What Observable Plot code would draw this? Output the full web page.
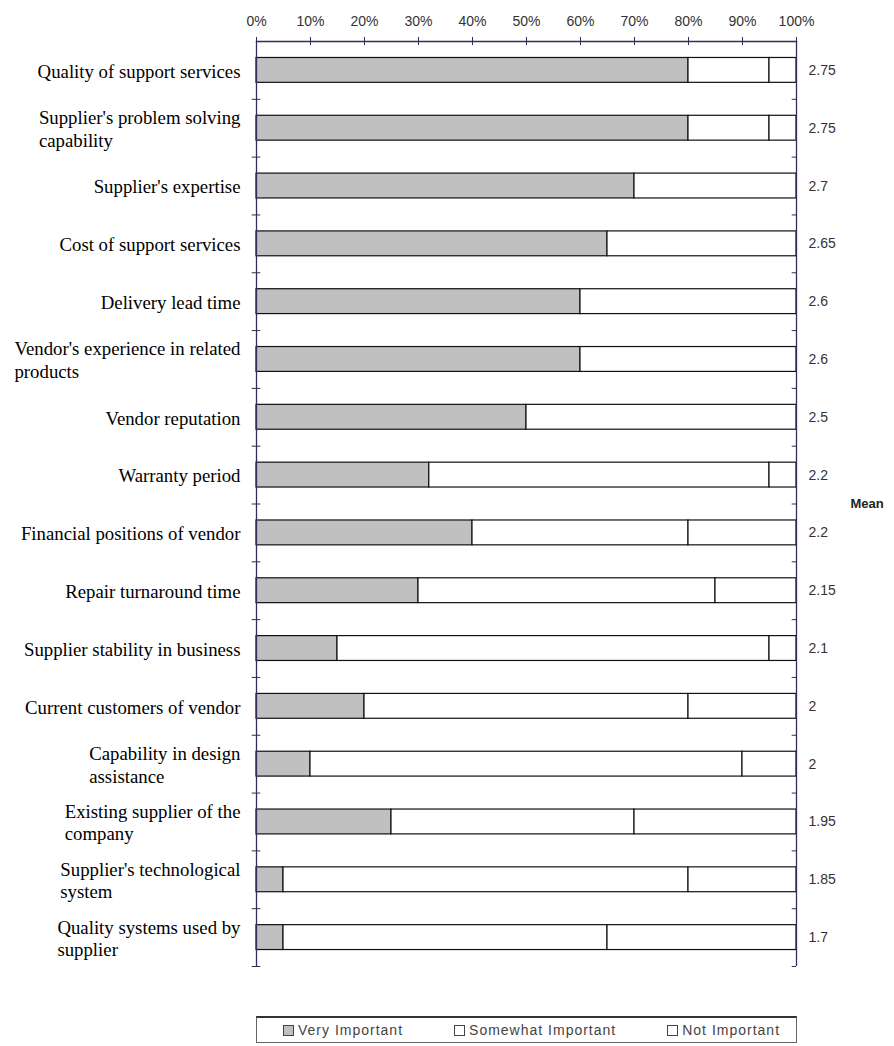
<!DOCTYPE html>
<html>
<head>
<meta charset="utf-8">
<script src="https://cdn.jsdelivr.net/npm/d3@7"></script>
<script src="https://cdn.jsdelivr.net/npm/@observablehq/plot@0.6"></script>
<style>
  body { margin: 0; background: #fff; }
  #chart { position: relative; width: 894px; height: 1046px; }
  #chart svg { display: block; }
  .legend {
    position: absolute; left: 256px; top: 1016px; width: 541px; height: 27px;
    border: 1px solid #666; border-top: 2px solid #333; box-sizing: border-box;
    display: flex; align-items: center; gap: 51px; padding-left: 26px;
    font-family: "Liberation Sans", Arial, sans-serif; font-size: 14px; letter-spacing: 1px; color: #444;
  }
  .legend .item { display: flex; align-items: center; white-space: nowrap; }
  .legend .swatch { width: 9px; height: 9px; border: 1px solid #444; margin-right: 4px; }
</style>
</head>
<body>
<div id="chart"></div>
<script>
// Survey: importance of supplier-selection criteria (% of respondents)
const categories = [
  "Quality of support services",
  "Supplier's problem solving capability",
  "Supplier's expertise",
  "Cost of support services",
  "Delivery lead time",
  "Vendor's experience in related products",
  "Vendor reputation",
  "Warranty period",
  "Financial positions of vendor",
  "Repair turnaround time",
  "Supplier stability in business",
  "Current customers of vendor",
  "Capability in design assistance",
  "Existing supplier of the company",
  "Supplier's technological system",
  "Quality systems used by supplier"
];
const categoryLabels = [
  "Quality of support services",
  "Supplier's problem solving\ncapability",
  "Supplier's expertise",
  "Cost of support services",
  "Delivery lead time",
  "Vendor's experience in related\nproducts",
  "Vendor reputation",
  "Warranty period",
  "Financial positions of vendor",
  "Repair turnaround time",
  "Supplier stability in business",
  "Current customers of vendor",
  "Capability in design\nassistance",
  "Existing supplier of the\ncompany",
  "Supplier's technological\nsystem",
  "Quality systems used by\nsupplier"
];
const veryImportant     = [80, 80, 70, 65, 60, 60, 50, 32, 40, 30, 15, 20, 10, 25,  5,  5];
const somewhatImportant = [15, 15, 30, 35, 40, 40, 50, 63, 40, 55, 80, 60, 80, 45, 75, 60];
const notImportant      = [ 5,  5,  0,  0,  0,  0,  0,  5, 20, 15,  5, 20, 10, 30, 20, 35];
const meanScores = ["2.75", "2.75", "2.7", "2.65", "2.6", "2.6", "2.5", "2.2", "2.2", "2.15", "2.1", "2", "2", "1.95", "1.85", "1.7"];
const seriesNames = ["Very Important", "Somewhat Important", "Not Important"];
const seriesFill = ["#c0c0c0", "#ffffff", "#ffffff"];
const xTicks = [0, 10, 20, 30, 40, 50, 60, 70, 80, 90, 100];
const meanTitle = "Mean";

const seriesValues = [veryImportant, somewhatImportant, notImportant];
const rows = categories.flatMap((category, i) =>
  seriesNames.map((series, s) => ({category, series, value: seriesValues[s][i]}))
);

const WIDTH = 894, HEIGHT = 1000, MARGIN_TOP = 41, MARGIN_BOTTOM = 34;
const plotHeight = HEIGHT - MARGIN_TOP - MARGIN_BOTTOM;
const rowStep = plotHeight / categories.length;
const tickLength = 4;
const axisColor = "#2e2e58";
const sans = "'Liberation Sans', Arial, sans-serif";
const serif = "'Liberation Serif', 'Times New Roman', serif";

const chart = Plot.plot({
  width: WIDTH,
  height: HEIGHT,
  marginTop: MARGIN_TOP,
  marginBottom: MARGIN_BOTTOM,
  marginLeft: 256,
  marginRight: 98,
  style: {background: "#fff", overflow: "visible"},
  x: {domain: [0, 100], axis: null},
  // rows fill the frame evenly: half the inner gap above the first and below the last bar
  y: {domain: categories, paddingInner: 0.57, paddingOuter: 0.285, round: false, axis: null},
  color: {domain: seriesNames, range: seriesFill},
  marks: [
    // stacked percentage bars
    Plot.barX(rows, Plot.stackX({
      x: "value", y: "category", fill: "series", order: seriesNames,
      stroke: "#111", strokeWidth: 1.2
    })),
    // left and right axis lines, top axis line
    Plot.ruleX([0, 100], {stroke: axisColor, strokeWidth: 1.3}),
    Plot.frame({anchor: "top", stroke: axisColor, strokeWidth: 1.3}),
    // top percentage axis: short ticks crossing the line, labels above
    Plot.tickX(xTicks, {
      x: d => d, insetTop: -tickLength, insetBottom: plotHeight - tickLength, stroke: axisColor
    }),
    Plot.axisX(xTicks, {
      anchor: "top", tickSize: 0, tickPadding: 16, label: null,
      tickFormat: d => d + "%", fontSize: 14, fontFamily: sans, fill: "#333", letterSpacing: 1
    }),
    // row separators on the left and right axes
    Plot.ruleY(categories, {y: d => d, x1: -0.8, x2: 0.8, dy: rowStep / 2, stroke: axisColor}),
    Plot.ruleY(categories, {y: d => d, x1: 99.2, x2: 100, dy: rowStep / 2, stroke: axisColor}),
    // category labels
    Plot.text(categoryLabels, {
      y: (d, i) => categories[i], text: d => d, frameAnchor: "left", textAnchor: "end",
      dx: -16, lineHeight: 1.2, fontSize: 18.8, fontFamily: serif, fill: "#000",
      ariaDescription: "category labels"
    }),
    // mean scores
    Plot.text(meanScores, {
      y: (d, i) => categories[i], text: d => d, frameAnchor: "right", textAnchor: "start",
      dx: 12, fontSize: 14, fontFamily: sans, fill: "#333", letterSpacing: 1
    }),
    Plot.text([meanTitle], {
      text: d => d, frameAnchor: "right", textAnchor: "start", dx: 54,
      fontSize: 13, fontWeight: "bold", fontFamily: sans, fill: "#222", letterSpacing: 1
    })
  ]
});

const container = document.getElementById("chart");
container.append(chart);

// wrapped labels are set flush-left as a block ending at the label column edge
chart.querySelectorAll('g[aria-description="category labels"] text').forEach(t => {
  const spans = t.querySelectorAll("tspan");
  if (spans.length < 2) return;
  const w = Math.max(...Array.from(spans, s => s.getComputedTextLength()));
  t.setAttribute("text-anchor", "start");
  t.setAttribute("transform", (t.getAttribute("transform") || "") + ` translate(${-w},0)`);
});

// legend
const legend = document.createElement("div");
legend.className = "legend";
seriesNames.forEach((name, i) => {
  const item = document.createElement("span");
  item.className = "item";
  const sw = document.createElement("span");
  sw.className = "swatch";
  sw.style.background = seriesFill[i];
  item.append(sw, document.createTextNode(name));
  legend.append(item);
});
container.append(legend);
</script>
</body>
</html>
